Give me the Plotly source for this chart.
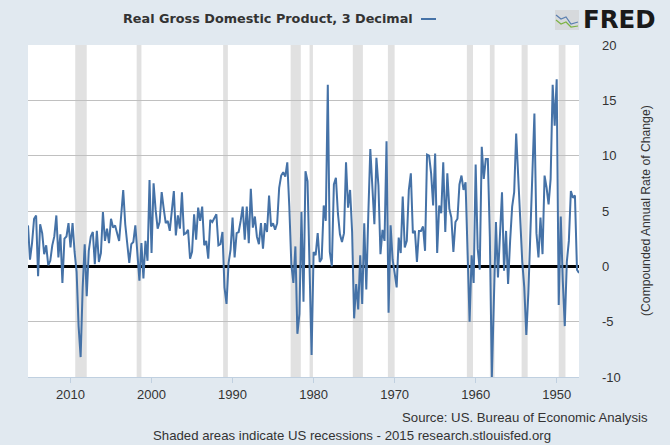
import pandas as pd
import plotly.graph_objects as go

# Quarterly real GDP growth (compounded annual rate), 1947Q2 .. 2015Q2
start_date = "1947-04-01"
gdp_growth = [
    -0.6, -0.3, 6.4,
    6.2, 6.8, 2.3, 0.4,
    -5.4, -1.3, 4.5, -3.5,
    16.9, 12.7, 16.4, 7.9,
    5.6, 7.1, 8.2, 1.1,
    4.4, 0.8, 3.0, 13.8,
    7.7, 3.1, -2.4, -6.2,
    -1.9, 0.4, 4.5, 8.1,
    12.0, 6.7, 5.4, 2.3,
    -1.6, 3.2, -0.4, 6.7,
    2.6, -1.0, 4.0, -4.1,
    -10.0, 2.6, 9.7, 9.7,
    7.9, 10.8, -0.3, 1.6,
    9.2, -1.5, 1.0, -5.0,
    2.7, 7.6, 6.9, 8.2,
    7.4, 4.3, 4.0, 1.3,
    4.4, 5.2, 8.4, 3.1,
    9.4, 4.8, 5.5, 1.2,
    10.2, 5.5, 8.4, 10.0,
    10.1, 1.4, 3.6, 3.2,
    3.2, 0.4, 3.2, 3.0,
    8.4, 6.9, 2.3, 1.7,
    6.3, 1.2, 2.6, -1.9,
    -0.6, 0.6, 3.7, -4.2,
    11.3, 2.3, 3.3, 1.1,
    7.3, 9.8, 3.8, 6.8,
    10.6, 4.7, -2.1, 3.9,
    -3.4, 1.0, -3.9, -1.6,
    -4.7, 3.1, 6.9, 5.3,
    9.4, 3.0, 2.2, 2.9,
    4.8, 8.0, 7.4, 0.0,
    1.3, 16.4, 4.1, 5.5,
    0.7, 0.4, 3.0, 1.0,
    1.3, -8.0, -0.5, 7.7,
    8.6, -3.2, 4.9, -4.3,
    -6.1, 1.8, -1.5, 0.2,
    5.4, 9.4, 8.1, 8.5,
    8.2, 7.1, 3.9, 3.3,
    3.9, 3.6, 6.4, 3.1,
    3.9, 1.6, 3.9, 2.0,
    2.7, 4.5, 3.5, 7.0,
    2.1, 5.4, 2.4, 5.4,
    4.1, 3.1, 3.0, 0.8,
    4.4, 1.5, 0.3, -3.4,
    -1.9, 3.1, 2.0, 1.9,
    4.7, 4.4, 4.0, 4.2,
    0.7, 2.3, 1.9, 5.4,
    4.1, 5.3, 2.4, 4.7,
    1.3, 0.7, 3.3, 3.0,
    2.9, 6.7, 3.4, 4.6,
    2.8, 6.8, 5.1, 3.2,
    4.1, 3.9, 5.2, 6.7,
    4.0, 3.4, 5.1, 7.5,
    1.2, 7.8, 0.5, 2.3,
    -1.1, 2.1, -1.3, 1.1,
    3.7, 2.2, 2.0, 0.3,
    2.1, 3.8, 6.9, 4.8,
    2.3, 3.0, 3.7, 3.5,
    4.3, 2.1, 3.4, 2.3,
    4.9, 1.2, 0.4, 3.2,
    0.2, 3.1, 2.7, 1.4,
    -2.7, 2.0, -1.9, -8.2,
    -5.4, -0.5, 1.3, 3.9,
    1.7, 3.9, 2.7, 2.5,
    -1.5, 2.9, 0.8, 4.6,
    2.7, 1.9, 0.5, 0.1,
    1.9, 1.1, 3.0, 3.8,
    -0.9, 4.6, 4.3, 2.1,
    0.6, 3.7,
]

recession_starts = ["1948-12-01", "1953-08-01", "1957-09-01", "1960-05-01", "1970-01-01",
                    "1973-12-01", "1980-02-01", "1981-08-01", "1990-08-01", "2001-04-01",
                    "2008-01-01"]
recession_ends = ["1949-10-01", "1954-05-01", "1958-04-01", "1961-02-01", "1970-11-01",
                  "1975-03-01", "1980-07-01", "1982-11-01", "1991-03-01", "2001-11-01",
                  "2009-06-01"]

year_ticks = ["1950", "1960", "1970", "1980", "1990", "2000", "2010"]
y_ticks = [-10, -5, 0, 5, 10, 15, 20]

title_text = "Real Gross Domestic Product, 3 Decimal"
y_title = "(Compounded Annual Rate of Change)"
source_text = "Source: US. Bureau of Economic Analysis"
shade_text = "Shaded areas indicate US recessions - 2015 research.stlouisfed.org"

dates = pd.date_range(start_date, periods=len(gdp_growth), freq="QS")

W, H = 670, 445
ML, MR, MT, MB = 28, 91, 45, 68
PW, PH = W - ML - MR, H - MT - MB


def px_x(p):
    return (p - ML) / PW


def px_y(p):
    return (H - MB - p) / PH


LINE = "#4572a7"
BG = "#e1e9f0"
TXT = "#333333"
SANS = "Liberation Sans"

fig = go.Figure()
fig.add_trace(go.Scatter(x=dates, y=gdp_growth, mode="lines",
                         line=dict(color=LINE, width=2), hoverinfo="skip",
                         showlegend=False))

shapes = []
for s, e in zip(recession_starts, recession_ends):
    shapes.append(dict(type="rect", xref="x", yref="paper", x0=s, x1=e, y0=0, y1=1,
                       fillcolor="#e1e1e1", line=dict(width=0), layer="below"))
# legend line next to title
shapes.append(dict(type="line", xref="paper", yref="paper",
                   x0=px_x(421), x1=px_x(436), y0=px_y(19), y1=px_y(19),
                   line=dict(color=LINE, width=2)))
# FRED logo icon
shapes.append(dict(type="rect", xref="paper", yref="paper",
                   x0=px_x(555), x1=px_x(579), y0=px_y(30), y1=px_y(10),
                   fillcolor="#d6d9dc", line=dict(width=0)))
shapes.append(dict(type="path", xref="paper", yref="paper",
                   path="M %f,%f L %f,%f L %f,%f L %f,%f L %f,%f" % (
                       px_x(556), px_y(15), px_x(561), px_y(19), px_x(566), px_y(17),
                       px_x(571), px_y(24), px_x(578), px_y(22)),
                   line=dict(color="#5a7fb0", width=1.2)))
shapes.append(dict(type="path", xref="paper", yref="paper",
                   path="M %f,%f L %f,%f L %f,%f L %f,%f L %f,%f" % (
                       px_x(556), px_y(20), px_x(561), px_y(24), px_x(566), px_y(22),
                       px_x(571), px_y(27), px_x(578), px_y(26)),
                   line=dict(color="#7cb342", width=1.2)))

annotations = [
    dict(text="<b>%s</b>" % title_text, xref="paper", yref="paper",
         x=px_x(415), y=px_y(19), xanchor="right", yanchor="middle", showarrow=False,
         font=dict(family="DejaVu Sans", size=12.8, color=TXT)),
    dict(text="<b>FRED</b>", xref="paper", yref="paper",
         x=px_x(581), y=px_y(20), xanchor="left", yanchor="middle", showarrow=False,
         font=dict(family="DejaVu Sans", size=24.5, color="#1a1a1a")),
    dict(text=y_title, xref="paper", yref="paper", x=px_x(646), y=0.5,
         xanchor="center", yanchor="middle", textangle=-90, showarrow=False,
         font=dict(family=SANS, size=12.2, color=TXT)),
    dict(text=source_text, xref="paper", yref="paper", x=px_x(650), y=px_y(417),
         xanchor="right", yanchor="middle", showarrow=False,
         font=dict(family=SANS, size=13.2, color=TXT)),
    dict(text=shade_text, xref="paper", yref="paper", x=px_x(553), y=px_y(435),
         xanchor="right", yanchor="middle", showarrow=False,
         font=dict(family=SANS, size=13.2, color=TXT)),
]

fig.update_layout(
    width=W, height=H,
    margin=dict(l=ML, r=MR, t=MT, b=MB, pad=0),
    paper_bgcolor=BG, plot_bgcolor="white",
    shapes=shapes, annotations=annotations, showlegend=False,
    xaxis=dict(type="date", range=[dates[-1], dates[0]],
               tickvals=[y + "-01-01" for y in year_ticks], ticktext=year_ticks,
               showgrid=False, zeroline=False,
               ticks="outside", ticklen=5, tickcolor="#c0d0e0",
               showline=True, linecolor="#c0d0e0", linewidth=1,
               tickfont=dict(family=SANS, size=13, color=TXT)),
    yaxis=dict(range=[-10, 20], side="right", tickvals=y_ticks,
               ticktext=[str(v) for v in y_ticks],
               showgrid=True, gridcolor="#c0c0c0", gridwidth=1,
               zeroline=True, zerolinecolor="black", zerolinewidth=2.5,
               ticks="", ticklabelstandoff=22, showline=False,
               tickfont=dict(family=SANS, size=13, color=TXT)),
)

fig.write_html("out.html")
